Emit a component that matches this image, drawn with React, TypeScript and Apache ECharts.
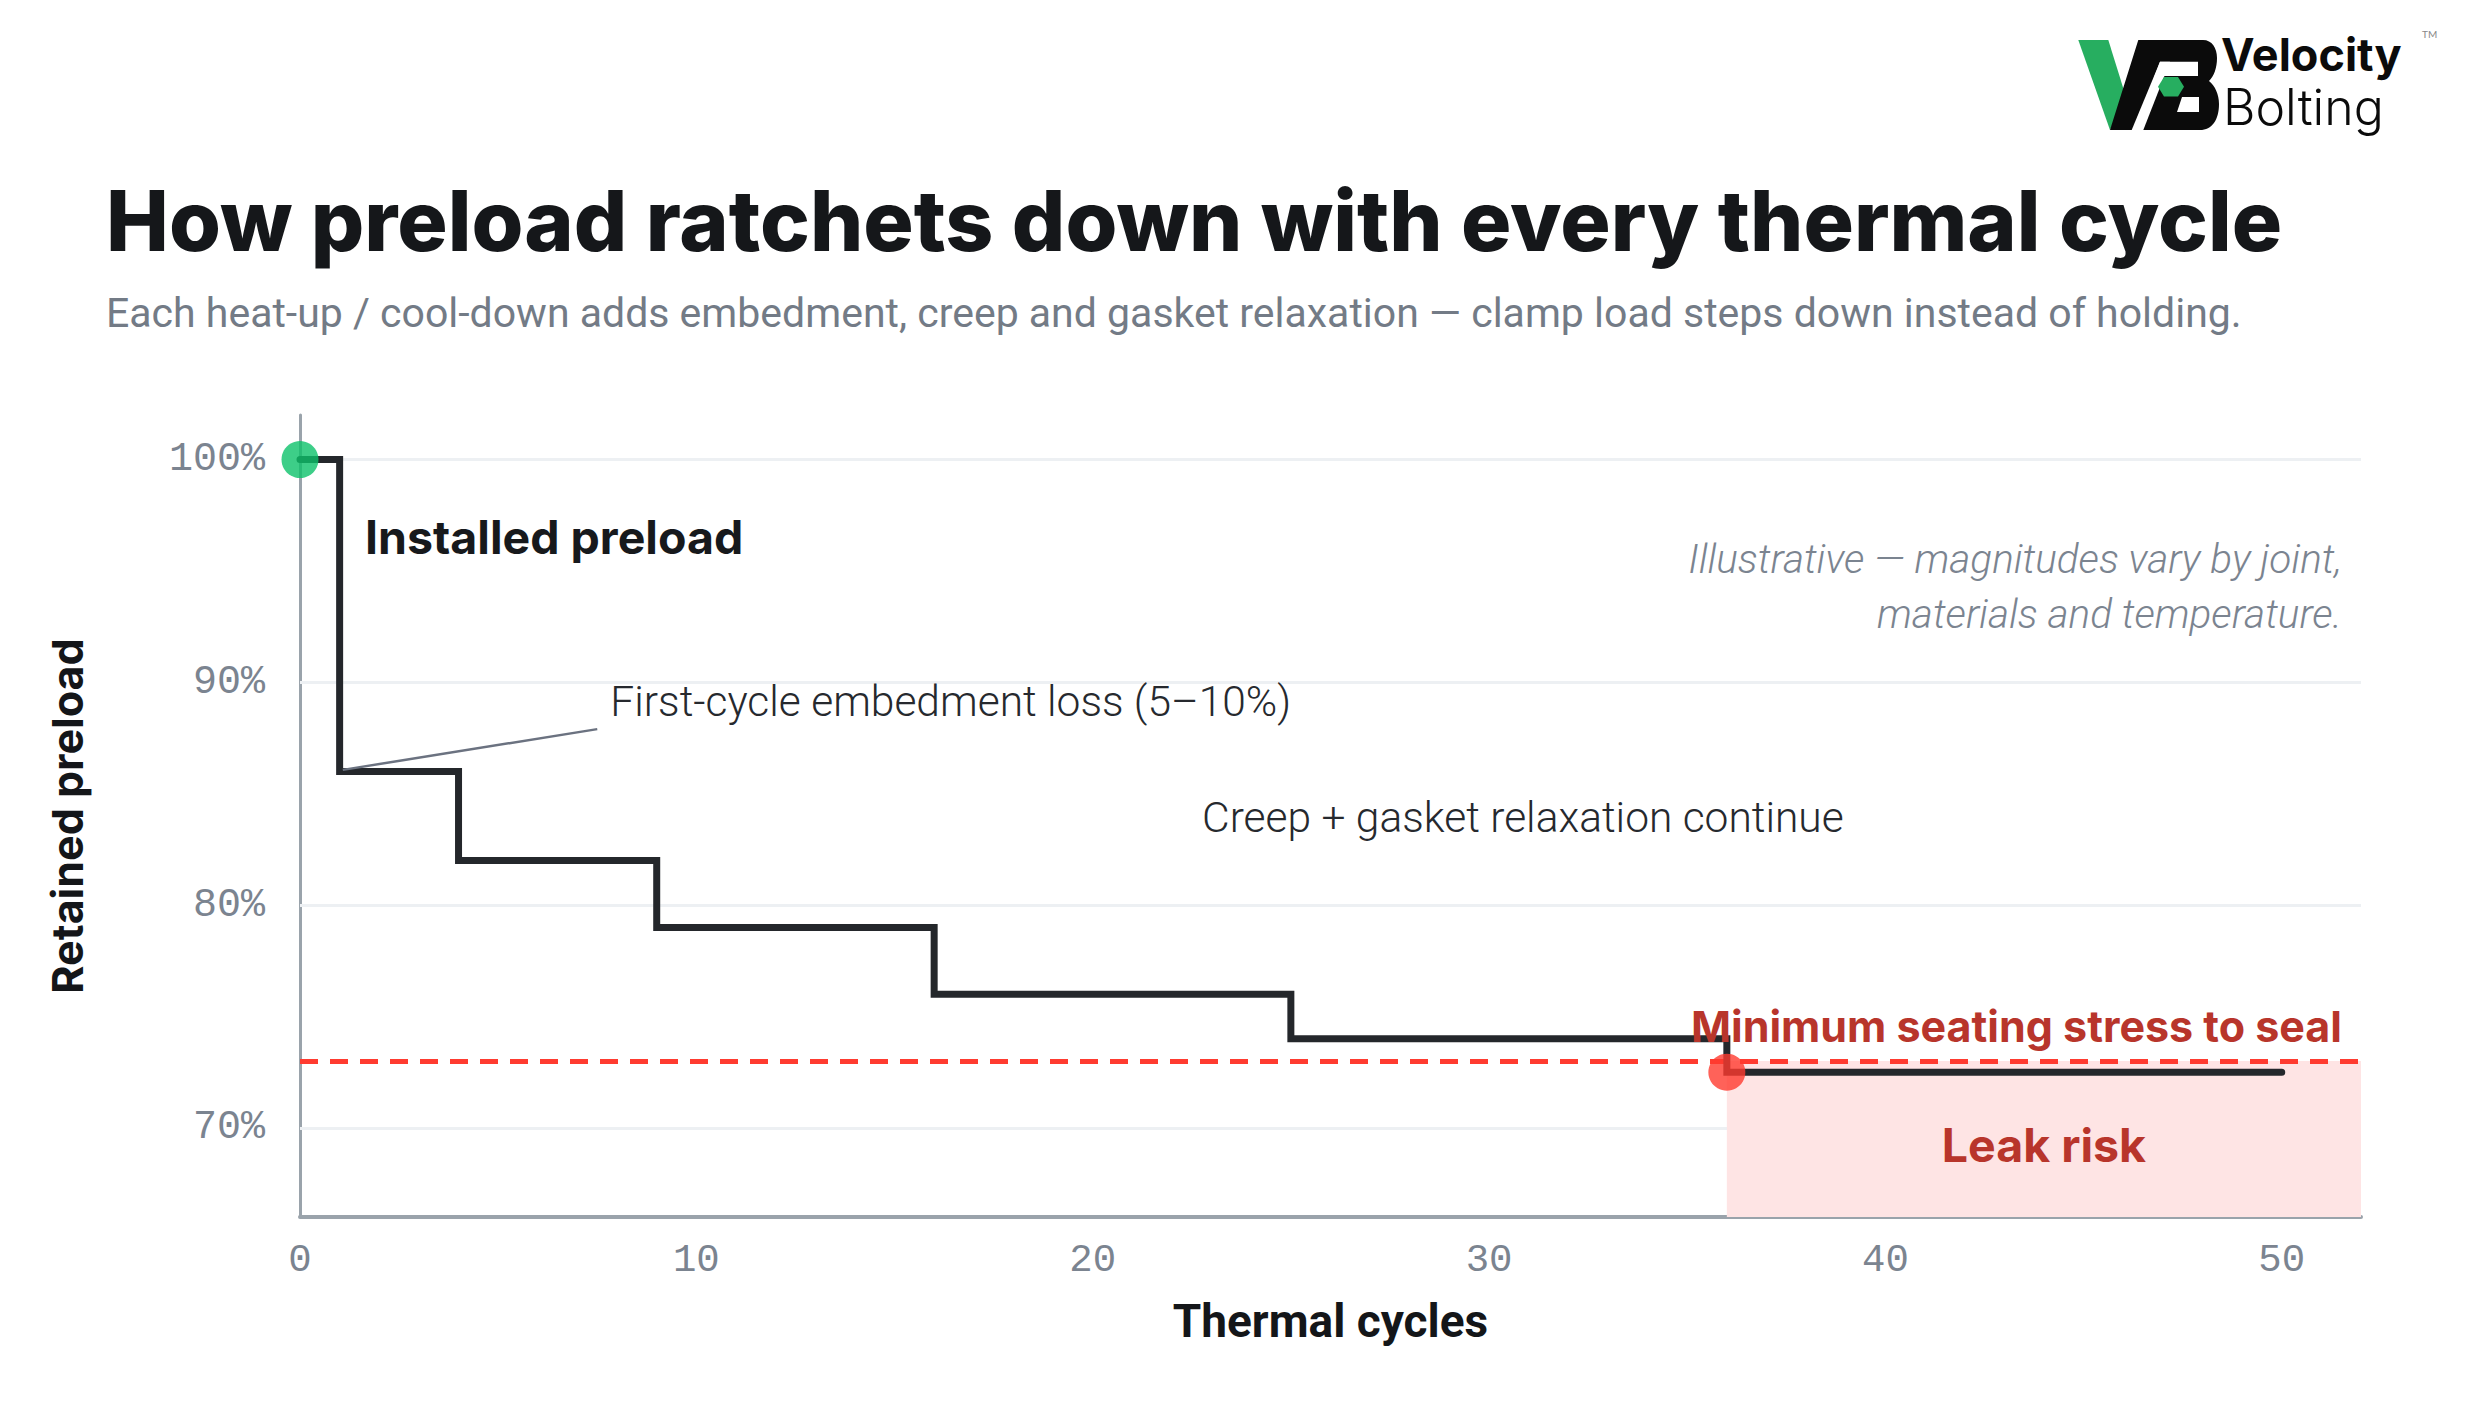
import React, { useEffect, useRef } from "react";
import * as echarts from "echarts";

// ---- data ----
const cycles = [0, 1, 4, 9, 16, 25, 36, 50];
const retained = [100, 86, 82, 79, 76, 74, 72.5, 72.5];
const sealThreshold = 73;
const xMin = 0;
const xMax = 52;
const yMin = 66;
const yMax = 102;
const xTickValues = [0, 10, 20, 30, 40, 50];
const yTickValues = [70, 80, 90, 100];
const leakStartCycle = 36;
const installedPoint = [0, 100];
const failurePoint = [36, 72.5];
const leaderFrom = [1.08, 86.07];
const leaderTo = [7.5, 87.9];

const annotationTexts = [
  "Installed preload",
  "First-cycle embedment loss (5–10%)",
  "Creep + gasket relaxation continue",
  "Illustrative — magnitudes vary by joint,\nmaterials and temperature.",
  "Minimum seating stress to seal",
  "Leak risk",
];
const annotationX = [1.64, 7.83, 22.76, 51.52, 51.52, 44.0];
const annotationY = [96.52, 89.13, 83.94, 94.28, 74.56, 69.22];

const TITLE = "How preload ratchets down with every thermal cycle";
const SUBTITLE =
  "Each heat-up / cool-down adds embedment, creep and gasket relaxation — clamp load steps down instead of holding.";

const VB_BODY =
  "M60,130 L88.3,40 L153,40 C162,40 167,48 167,58 C167,68 164,76 159,81 C165,86 169,94 169,104 C169,120 162,130 150,130 Z";

export default function App() {
  const ref = useRef<HTMLDivElement>(null);

  useEffect(() => {
    document.body.style.margin = "0";
    if (!ref.current) return;
    try {
      echarts.graphic.registerShape("vbBody", echarts.graphic.extendPath(VB_BODY, {}));
    } catch (e) {}
    const chart = echarts.init(ref.current, null, { renderer: "svg" });

    const option: any = {
      animation: false,
      backgroundColor: "#ffffff",
      grid: { left: 300, right: 119, top: 415, bottom: 193, containLabel: false },
      xAxis: {
        type: "value",
        min: xMin,
        max: xMax,
        interval: 2,
        name: "Thermal cycles",
        nameLocation: "middle",
        nameGap: 81,
        nameTextStyle: { fontFamily: "Roboto", fontWeight: 700, fontSize: 46, color: "#141619" },
        axisLine: { show: true, lineStyle: { color: "#9aa3ab", width: 4 } },
        axisTick: { show: false },
        splitLine: { show: false },
        axisLabel: {
          margin: 24,
          fontFamily: "Liberation Mono",
          fontSize: 39,
          color: "#7b8490",
          formatter: (v: number) => (xTickValues.includes(v) ? String(v) : ""),
        },
      },
      yAxis: {
        type: "value",
        min: yMin,
        max: yMax,
        interval: 2,
        name: "Retained preload",
        nameLocation: "middle",
        nameGap: 212,
        nameTextStyle: { fontFamily: "Inter", fontWeight: 700, fontSize: 43, color: "#141619" },
        axisLine: { show: true, lineStyle: { color: "#9aa3ab", width: 3 } },
        axisTick: { show: false },
        splitLine: { show: false },
        axisLabel: {
          margin: 35,
          fontFamily: "Liberation Mono",
          fontSize: 40,
          color: "#7b8490",
          formatter: (v: number) => (yTickValues.includes(v) ? v + "%" : ""),
        },
      },
      series: [
        {
          type: "line",
          data: [],
          z: 1,
          silent: true,
          markLine: {
            z: 1,
            silent: true,
            symbol: ["none", "none"],
            label: { show: false },
            lineStyle: { color: "#edf0f3", width: 3, type: "solid" },
            data: yTickValues.map((v) => [{ coord: [xMin, v] }, { coord: [xMax, v] }]),
          },
        },
        {
          type: "line",
          data: [],
          z: 2,
          silent: true,
          markArea: {
            z: 2,
            silent: true,
            itemStyle: { color: "#fee4e4" },
            data: [[{ xAxis: leakStartCycle, yAxis: yMin }, { xAxis: xMax, yAxis: sealThreshold }]],
          },
        },
        {
          type: "line",
          data: [],
          z: 3,
          silent: true,
          markLine: {
            z: 3,
            silent: true,
            symbol: ["none", "none"],
            label: { show: false },
            lineStyle: { color: "#ff3b30", width: 5, type: [18, 12] },
            data: [[{ coord: [xMin, sealThreshold] }, { coord: [xMax, sealThreshold] }]],
          },
        },
        {
          type: "line",
          step: "end",
          z: 4,
          showSymbol: false,
          data: cycles.map((c, i) => [c, retained[i]]),
          lineStyle: { color: "#24272b", width: 7, cap: "round", join: "miter" },
        },
        {
          type: "line",
          z: 4,
          showSymbol: false,
          data: [leaderFrom, leaderTo],
          lineStyle: { color: "#6b7280", width: 2.5 },
        },
        {
          type: "scatter",
          z: 5,
          symbolSize: 37,
          data: [
            { value: installedPoint, itemStyle: { color: "#0cc26a" } },
            { value: failurePoint, itemStyle: { color: "#ff3b30" } },
          ],
        },
      ],
    };

    chart.setOption(option);

    const annStyles: any[] = [
      { fontFamily: "Inter", fontWeight: 700, fontSize: 46.5, fill: "#17191c", align: "left" },
      { fontFamily: "Roboto", fontWeight: 300, fontSize: 42.5, fill: "#26292e", align: "left" },
      { fontFamily: "Roboto", fontWeight: 300, fontSize: 42.5, fill: "#26292e", align: "left" },
      { fontFamily: "Roboto", fontStyle: "italic", fontWeight: 300, fontSize: 40.5, fill: "#7b8490", align: "right", lineHeight: 55 },
      { fontFamily: "Inter", fontWeight: 700, fontSize: 43, fill: "#b8352b", align: "right" },
      { fontFamily: "Inter", fontWeight: 700, fontSize: 46.5, fill: "#b8352b", align: "center" },
    ];

    const annotationGraphics = annotationTexts.map((t, i) => {
      const p = chart.convertToPixel({ gridIndex: 0 }, [annotationX[i], annotationY[i]]) as number[];
      return {
        type: "text",
        x: p[0],
        y: p[1],
        z: 10,
        style: { text: t, verticalAlign: "middle", ...annStyles[i] },
      };
    });

    chart.setOption({
      graphic: [
        {
          type: "text",
          x: 106,
          y: 220,
          style: {
            text: TITLE,
            fontFamily: "Inter",
            fontWeight: 800,
            fontSize: 84,
            fill: "#15171a",
            verticalAlign: "middle",
            align: "left",
          },
        },
        {
          type: "text",
          x: 106,
          y: 313,
          style: {
            text: SUBTITLE,
            fontFamily: "Roboto",
            fontWeight: 400,
            fontSize: 41,
            fill: "#737b86",
            verticalAlign: "middle",
            align: "left",
          },
        },
        {
          type: "group",
          x: 2050,
          y: 0,
          children: [
            {
              type: "polygon",
              shape: { points: [[28.3, 40], [58.3, 40], [76, 97], [60, 130]] },
              style: { fill: "#27ae60" },
            },
            { type: "vbBody", style: { fill: "#0b0b0b" } },
            {
              type: "polygon",
              shape: { points: [[110, 61.7], [148, 61.7], [148, 76], [104.6, 76]] },
              style: { fill: "#ffffff" },
            },
            {
              type: "polygon",
              shape: { points: [[110, 61.7], [120, 61.7], [93.3, 130], [81.7, 130]] },
              style: { fill: "#ffffff" },
            },
            {
              type: "polygon",
              shape: { points: [[132, 97], [149, 97], [149, 112], [127, 112]] },
              style: { fill: "#ffffff" },
            },
            {
              type: "polygon",
              shape: { points: [[114, 77], [128, 77], [134, 86.7], [128, 96.5], [114, 96.5], [108, 86.7]] },
              style: { fill: "#27ae60" },
            },
            {
              type: "text",
              x: 171,
              y: 54,
              style: {
                text: "Velocity",
                fontFamily: "Inter",
                fontWeight: 700,
                fontSize: 45,
                fill: "#0b0b0b",
                verticalAlign: "middle",
                align: "left",
              },
            },
            {
              type: "text",
              x: 173,
              y: 107,
              style: {
                text: "Bolting",
                fontFamily: "Inter",
                fontWeight: 300,
                fontSize: 50,
                fill: "#0b0b0b",
                verticalAlign: "middle",
                align: "left",
              },
            },
            {
              type: "text",
              x: 372,
              y: 34,
              style: {
                text: "TM",
                fontFamily: "Lato",
                fontSize: 10,
                fill: "#888888",
                verticalAlign: "middle",
                align: "left",
              },
            },
          ],
        },
        ...annotationGraphics,
      ],
    });

    return () => chart.dispose();
  }, []);

  return <div ref={ref} style={{ width: 2480, height: 1410 }} />;
}
